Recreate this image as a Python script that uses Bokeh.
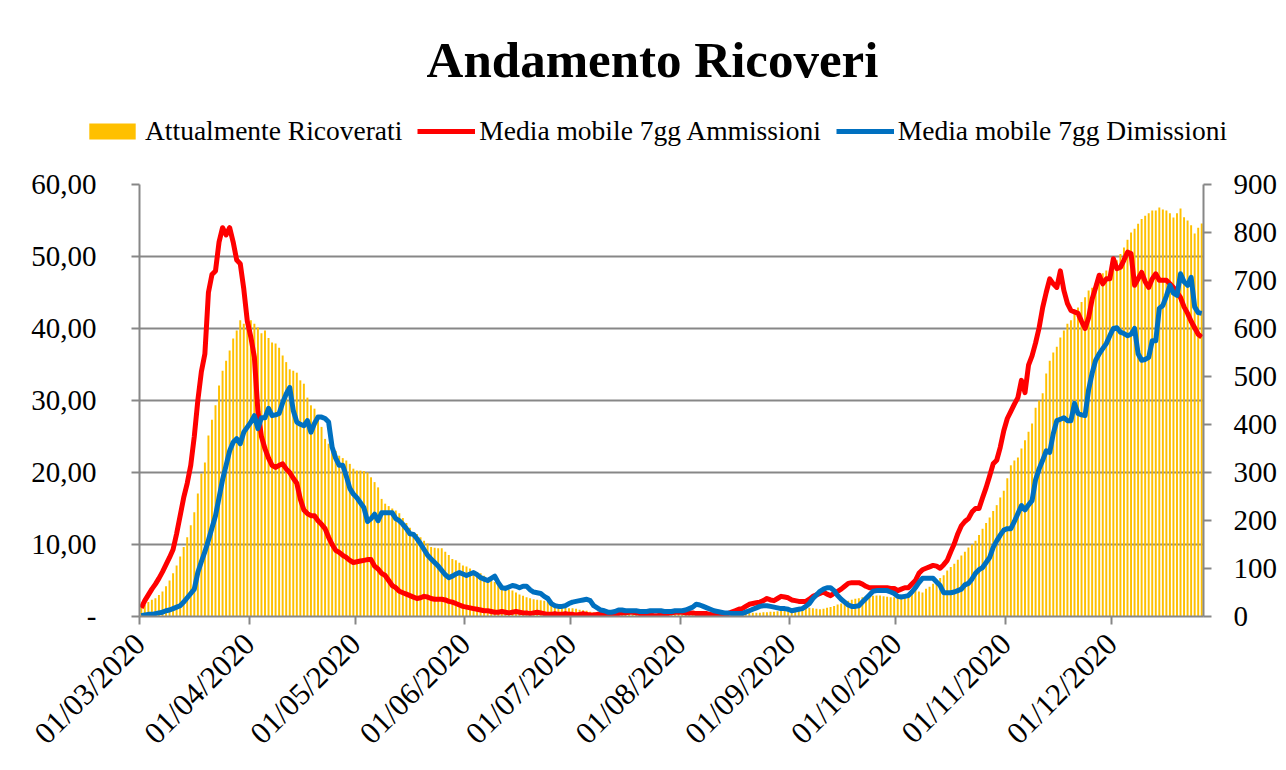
import pandas as pd
from bokeh.plotting import figure
from bokeh.layouts import column
from bokeh.models import (Range1d, LinearAxis, FixedTicker, DatetimeTickFormatter,
                          Legend, LegendItem, Label, ColumnDataSource)
from bokeh.embed import file_html
from bokeh.resources import INLINE

TITLE = "Andamento Ricoveri"
SERIES_NAMES = ["Attualmente Ricoverati", "Media mobile 7gg Ammissioni",
                "Media mobile 7gg Dimissioni"]
SERIES_COLORS = ["#FFC000", "#FF0000", "#0070C0"]
START_DATE = "2020-03-01"
MONTH_TICKS = ["2020-03-01", "2020-04-01", "2020-05-01", "2020-06-01", "2020-07-01",
               "2020-08-01", "2020-09-01", "2020-10-01", "2020-11-01", "2020-12-01"]
LEFT_TICKS = [0, 10, 20, 30, 40, 50, 60]
LEFT_TICK_LABELS = ["-", "10,00", "20,00", "30,00", "40,00", "50,00", "60,00"]
RIGHT_TICKS = [0, 100, 200, 300, 400, 500, 600, 700, 800, 900]

# Attualmente Ricoverati (right axis), daily values by month
RIC_MAR = [18, 24, 30, 35, 38, 45, 52, 63, 75, 90, 106, 125, 145, 165, 190, 217, 256, 298, 321, 377,
           410, 440, 481, 512, 533, 554, 579, 596, 617, 610, 606]
RIC_APR = [617, 610, 602, 590, 596, 580, 571, 569, 560, 544, 530, 515, 512, 508, 492, 485, 456, 440,
           433, 420, 395, 370, 360, 350, 345, 335, 330, 325, 318, 308]
RIC_MAY = [304, 304, 303, 300, 290, 280, 269, 245, 235, 230, 225, 221, 215, 205, 195, 185, 175, 172,
           165, 158, 152, 145, 143, 142, 142, 135, 128, 120, 117, 112, 106]
RIC_JUN = [104, 100, 95, 92, 90, 85, 80, 76, 72, 70, 62, 58, 56, 54, 50, 46, 43, 40, 38, 36, 35, 34,
           33, 30, 27, 24, 20, 19, 18, 17]
RIC_JUL = [17, 16, 14, 13, 12, 10, 9, 8, 8, 7, 7, 6, 6, 6, 5, 5, 5, 4, 4, 5, 5, 4, 4, 4, 5, 5, 5, 5,
           4, 4, 5]
RIC_AUG = [4, 4, 5, 5, 5, 5, 5, 6, 6, 6, 6, 6, 6, 6, 7, 7, 7, 7, 7, 8, 8, 8, 8, 9, 9, 10, 10, 11, 12,
           13, 14]
RIC_SEP = [14, 15, 16, 17, 19, 18, 17, 16, 15, 16, 18, 20, 22, 25, 27, 30, 33, 35, 37, 38, 40, 40, 42,
           43, 44, 44, 42, 41, 40, 40]
RIC_OCT = [40, 42, 44, 48, 55, 58, 52, 50, 58, 62, 68, 74, 80, 86, 96, 103, 110, 118, 127, 135, 144,
           150, 158, 170, 183, 195, 206, 220, 232, 248, 262]
RIC_NOV = [288, 315, 325, 331, 350, 367, 385, 402, 435, 450, 465, 506, 533, 550, 562, 581, 596, 610,
           617, 630, 644, 655, 665, 679, 685, 695, 706, 715, 721, 721]
RIC_DEC = [730, 742, 755, 769, 785, 800, 808, 818, 828, 835, 840, 846, 846, 852, 848, 846, 840, 831,
           840, 850, 832, 825, 815, 798, 810, 819]

# Media mobile 7gg Ammissioni (left axis)
AMM_MAR = [1.2, 2.2, 3.0, 3.8, 4.5, 5.3, 6.2, 7.2, 8.2, 9.3, 11.5, 14.0, 16.5, 18.5, 21.0, 25.0, 30.0,
           34.0, 36.5, 45.0, 47.5, 48.0, 52.0, 54.0, 53.0, 54.0, 52.0, 49.5, 49.0, 45.5, 41.0]
AMM_APR = [38.8, 36.0, 28.5, 25.0, 23.3, 22.0, 21.0, 20.7, 21.0, 21.2, 20.5, 20.0, 19.2, 18.5, 16.3,
           14.8, 14.3, 14.0, 14.0, 13.3, 12.8, 12.2, 11.0, 10.0, 9.2, 8.9, 8.5, 8.2, 7.8, 7.5]
AMM_MAY = [7.6, 7.7, 7.8, 7.9, 7.9, 7.0, 6.6, 6.0, 5.7, 5.0, 4.3, 4.0, 3.5, 3.3, 3.1, 2.9, 2.7, 2.5,
           2.6, 2.8, 2.7, 2.5, 2.4, 2.4, 2.4, 2.3, 2.1, 2.0, 1.8, 1.6, 1.4]
AMM_JUN = [1.3, 1.2, 1.1, 1.0, 0.9, 0.8, 0.8, 0.7, 0.6, 0.6, 0.7, 0.6, 0.5, 0.6, 0.7, 0.6, 0.5, 0.5,
           0.4, 0.5, 0.6, 0.5, 0.4, 0.3, 0.3, 0.4, 0.3, 0.3, 0.4, 0.3]
AMM_JUL = [0.3, 0.2, 0.3, 0.4, 0.3, 0.2, 0.2, 0.3, 0.3, 0.2, 0.2, 0.3, 0.4, 0.4, 0.5, 0.5, 0.6, 0.6,
           0.5, 0.4, 0.3, 0.2, 0.2, 0.1, 0.1, 0.2, 0.3, 0.4, 0.5, 0.6, 0.6]
AMM_AUG = [0.6, 0.5, 0.5, 0.5, 0.4, 0.4, 0.4, 0.4, 0.3, 0.2, 0.1, 0.1, 0.2, 0.4, 0.6, 0.8, 1.0, 1.1,
           1.4, 1.7, 1.8, 1.9, 2.0, 2.2, 2.5, 2.3, 2.2, 2.5, 2.8, 2.7, 2.6]
AMM_SEP = [2.3, 2.2, 2.1, 2.1, 2.1, 2.4, 2.8, 3.0, 3.2, 3.4, 3.1, 2.9, 3.2, 3.5, 3.8, 4.2, 4.6, 4.7,
           4.7, 4.7, 4.5, 4.2, 4.0, 4.0, 4.0, 4.0, 4.0, 4.0, 3.9, 3.9]
AMM_OCT = [3.6, 3.8, 4.0, 4.0, 4.5, 5.0, 6.0, 6.5, 6.7, 6.9, 7.1, 7.0, 6.7, 7.2, 7.8, 9.0, 10.1, 11.5,
           12.6, 13.2, 13.6, 14.5, 15.0, 15.0, 16.5, 17.9, 19.5, 21.2, 21.7, 23.5, 25.8]
AMM_NOV = [27.5, 28.5, 29.5, 30.4, 32.8, 31.1, 34.9, 36.2, 38.0, 40.1, 42.9, 45.0, 46.9, 46.2, 45.7,
           48.0, 45.3, 43.5, 42.5, 42.3, 42.1, 41.0, 40.0, 41.5, 44.1, 45.7, 47.4, 46.2, 46.9, 46.9]
AMM_DEC = [49.7, 48.3, 48.5, 49.5, 50.6, 50.4, 46.0, 46.9, 47.8, 46.5, 45.7, 46.9, 47.6, 46.7, 46.7,
           46.7, 46.2, 45.7, 45.0, 44.3, 43.0, 42.1, 41.0, 40.1, 39.2, 38.8]

# Media mobile 7gg Dimissioni (left axis)
DIM_MAR = [0.1, 0.2, 0.3, 0.3, 0.4, 0.5, 0.6, 0.8, 0.9, 1.1, 1.3, 1.5, 2.0, 2.6, 3.2, 3.8, 6.1, 7.6,
           9.0, 10.6, 12.3, 14.0, 16.5, 19.0, 21.0, 23.0, 24.2, 24.7, 24.0, 25.6, 26.3]
DIM_APR = [27.0, 27.9, 26.1, 27.6, 27.6, 28.9, 27.9, 28.0, 28.2, 29.7, 30.9, 31.8, 28.6, 27.0, 26.7,
           26.5, 27.2, 25.6, 26.8, 27.7, 27.7, 27.5, 27.0, 23.5, 22.0, 21.0, 21.0, 19.5, 17.8, 17.0]
DIM_MAY = [16.5, 15.8, 15.1, 13.2, 13.6, 14.2, 13.3, 14.4, 14.4, 14.4, 14.4, 13.6, 13.3, 12.8, 12.2,
           11.5, 11.4, 10.8, 10.1, 9.3, 8.5, 8.0, 7.5, 7.0, 6.4, 5.8, 5.4, 5.6, 5.9, 6.1, 5.9]
DIM_JUN = [5.7, 5.9, 6.1, 5.8, 5.4, 5.2, 5.0, 5.3, 5.6, 4.7, 4.0, 3.9, 4.1, 4.3, 4.2, 4.0, 4.2, 4.2,
           3.7, 3.4, 3.3, 3.2, 2.8, 2.5, 1.8, 1.5, 1.4, 1.4, 1.5, 1.8]
DIM_JUL = [2.0, 2.1, 2.2, 2.3, 2.4, 2.2, 1.5, 1.2, 0.9, 0.8, 0.6, 0.6, 0.7, 0.9, 0.9, 0.8, 0.8, 0.8,
           0.8, 0.7, 0.7, 0.7, 0.8, 0.8, 0.8, 0.8, 0.7, 0.7, 0.7, 0.8, 0.8]
DIM_AUG = [0.8, 0.9, 1.1, 1.3, 1.7, 1.6, 1.4, 1.2, 1.0, 0.8, 0.7, 0.6, 0.5, 0.5, 0.4, 0.4, 0.4, 0.4,
           0.6, 0.8, 1.0, 1.2, 1.4, 1.5, 1.5, 1.4, 1.3, 1.2, 1.1, 1.1, 1.0]
DIM_SEP = [0.8, 0.9, 1.0, 1.1, 1.4, 1.8, 2.5, 3.0, 3.5, 3.8, 4.0, 4.0, 3.6, 2.9, 2.4, 2.0, 1.6, 1.4,
           1.4, 1.5, 2.0, 2.5, 3.0, 3.5, 3.6, 3.6, 3.6, 3.6, 3.4, 3.2]
DIM_OCT = [2.8, 2.7, 2.8, 2.9, 3.4, 4.0, 4.7, 5.3, 5.3, 5.3, 5.3, 4.8, 4.3, 3.3, 3.3, 3.3, 3.4, 3.6,
           3.8, 4.4, 4.6, 5.2, 6.0, 6.5, 6.8, 7.5, 8.2, 9.6, 10.5, 11.3, 12.0]
DIM_NOV = [12.2, 12.2, 13.2, 14.3, 15.4, 14.8, 15.5, 16.1, 19.0, 20.5, 21.7, 23.0, 22.8, 25.4, 27.2,
           27.4, 27.6, 27.2, 27.2, 29.6, 28.2, 28.0, 27.9, 31.5, 33.8, 35.6, 36.5, 37.2, 37.9, 39.0]
DIM_DEC = [40.0, 40.1, 39.5, 39.3, 39.0, 39.2, 40.0, 36.5, 35.6, 35.7, 36.0, 38.3, 38.3, 42.8, 43.2,
           44.5, 46.0, 44.9, 44.6, 47.6, 46.5, 46.0, 47.1, 43.0, 42.2, 42.1]

ricoverati = (RIC_MAR + RIC_APR + RIC_MAY + RIC_JUN + RIC_JUL + RIC_AUG + RIC_SEP + RIC_OCT
              + RIC_NOV + RIC_DEC)
ammissioni = (AMM_MAR + AMM_APR + AMM_MAY + AMM_JUN + AMM_JUL + AMM_AUG + AMM_SEP + AMM_OCT
              + AMM_NOV + AMM_DEC)
dimissioni = (DIM_MAR + DIM_APR + DIM_MAY + DIM_JUN + DIM_JUL + DIM_AUG + DIM_SEP + DIM_OCT
              + DIM_NOV + DIM_DEC)

n = len(ricoverati)
day0 = pd.Timestamp(START_DATE)
dates = pd.date_range(START_DATE, periods=n, freq="D") + pd.Timedelta(hours=12)
src = ColumnDataSource(dict(date=dates, ric=ricoverati, amm=ammissioni, dim=dimissioni))

FONT = "Liberation Serif"
GRID = "#878787"
W = 1280
HEAD_H = 158
MAIN_H = 612
LINE_W = 5
NAN = float("nan")

# ---------------- header: title + legend ----------------
head = figure(width=W, height=HEAD_H, x_range=Range1d(0, W), y_range=Range1d(0, HEAD_H),
              x_axis_location=None, y_axis_location=None, output_backend="svg",
              toolbar_location=None, min_border=0, title=None)
head.frame_align = False
head.grid.visible = False
head.outline_line_color = None
head.background_fill_color = "white"
head.border_fill_color = "white"

# legend proxies (no visible data)
proxy_bar = head.vbar(x=[NAN], top=[NAN], width=1, fill_color=SERIES_COLORS[0], line_color=None)
proxy_red = head.line(x=[NAN, NAN], y=[NAN, NAN], line_color=SERIES_COLORS[1], line_width=LINE_W)
proxy_blue = head.line(x=[NAN, NAN], y=[NAN, NAN], line_color=SERIES_COLORS[2], line_width=LINE_W)

head.add_layout(Label(x=652, y=99, text=TITLE, text_font=FONT, text_font_style="bold",
                      text_font_size="51px", text_align="center", text_baseline="alphabetic",
                      text_color="black"))

legend = Legend(items=[LegendItem(label=SERIES_NAMES[0], renderers=[proxy_bar]),
                       LegendItem(label=SERIES_NAMES[1], renderers=[proxy_red]),
                       LegendItem(label=SERIES_NAMES[2], renderers=[proxy_blue])],
                orientation="horizontal", location=(83, 11),
                label_text_font=FONT, label_text_font_size="27.5px", label_text_color="black",
                glyph_width=58, glyph_height=20, label_standoff=4, spacing=15,
                padding=0, margin=0, border_line_color=None, background_fill_alpha=0)
head.add_layout(legend)

# ---------------- main chart ----------------
p = figure(width=W, height=MAIN_H, x_axis_type="datetime", title=None,
           x_range=Range1d(day0, day0 + pd.Timedelta(days=n)),
           y_range=Range1d(0, 60),
           output_backend="svg", toolbar_location=None,
           min_border_left=139, min_border_right=W - 1210, min_border_top=26,
           min_border_bottom=MAIN_H - 26 - 432)
p.frame_align = False
p.extra_y_ranges = {"right": Range1d(0, 900)}
p.outline_line_color = None
p.background_fill_color = "white"
p.border_fill_color = "white"

bars = p.vbar(x="date", top="ric", width=0.55 * 86400000, source=src, y_range_name="right",
              fill_color=SERIES_COLORS[0], line_color=None)
red = p.line(x="date", y="amm", source=src, line_color=SERIES_COLORS[1], line_width=LINE_W,
             line_join="round")
blue = p.line(x="date", y="dim", source=src, line_color=SERIES_COLORS[2], line_width=LINE_W,
              line_join="round")

xa = p.xaxis[0]
xa.ticker = FixedTicker(ticks=[pd.Timestamp(d).value // 10**6 for d in MONTH_TICKS])
xa.formatter = DatetimeTickFormatter(days="%d/%m/%Y", months="%d/%m/%Y", years="%d/%m/%Y",
                                     hours="%d/%m/%Y", minutes="%d/%m/%Y")
xa.major_label_orientation = 0.785398
ya = p.yaxis[0]
ya.ticker = FixedTicker(ticks=LEFT_TICKS)
ya.major_label_overrides = dict(zip(LEFT_TICKS, LEFT_TICK_LABELS))
ra = LinearAxis(y_range_name="right", ticker=FixedTicker(ticks=RIGHT_TICKS))
p.add_layout(ra, "right")

for ax in (xa, ya, ra):
    ax.axis_line_color = GRID
    ax.axis_line_width = 2
    ax.major_tick_line_color = GRID
    ax.major_tick_line_width = 2
    ax.major_tick_out = 8
    ax.major_tick_in = 0
    ax.minor_tick_line_color = None
    ax.major_label_text_font = FONT
    ax.major_label_text_font_size = "29px"
    ax.major_label_text_color = "black"
xa.major_label_text_font_size = "31px"
ya.major_label_standoff = 35
ra.major_label_standoff = 22
xa.major_label_standoff = 14

p.xgrid.grid_line_color = None
p.ygrid.grid_line_color = GRID
p.ygrid.grid_line_width = 2

layout = column(head, p, spacing=0)
open("out.html", "w").write(file_html(layout, INLINE))
